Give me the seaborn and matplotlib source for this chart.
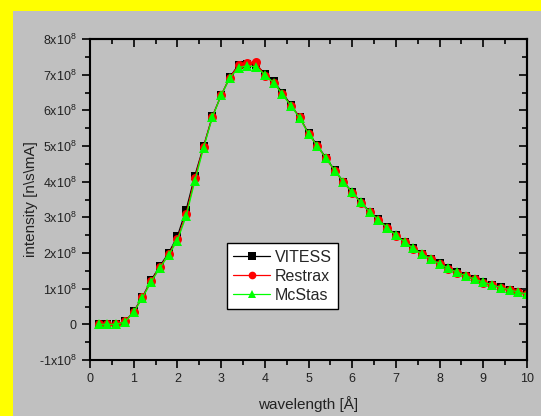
import numpy as np
import pandas as pd
import matplotlib
matplotlib.use("Agg")
import matplotlib.pyplot as plt
import seaborn as sns
from matplotlib.patches import Rectangle
from matplotlib.ticker import MultipleLocator, FuncFormatter, NullFormatter

wavelength = [0.2, 0.4, 0.6, 0.8, 1.0, 1.2, 1.4, 1.6, 1.8, 2.0,
              2.2, 2.4, 2.6, 2.8, 3.0, 3.2, 3.4, 3.6, 3.8, 4.0,
              4.2, 4.4, 4.6, 4.8, 5.0, 5.2, 5.4, 5.6, 5.8, 6.0,
              6.2, 6.4, 6.6, 6.8, 7.0, 7.2, 7.4, 7.6, 7.8, 8.0,
              8.2, 8.4, 8.6, 8.8, 9.0, 9.2, 9.4, 9.6, 9.8, 10.0]

# intensities in units of 1e8 n/s/mA
vitess = [0.0, 0.0, 0.0, 0.08, 0.36, 0.77, 1.24, 1.64, 2.0, 2.47,
          3.21, 4.17, 5.0, 5.83, 6.42, 6.93, 7.28, 7.3, 7.28, 7.03,
          6.82, 6.5, 6.15, 5.8, 5.36, 5.02, 4.67, 4.32, 4.0, 3.71,
          3.43, 3.16, 2.94, 2.72, 2.51, 2.32, 2.14, 1.98, 1.84, 1.71,
          1.58, 1.47, 1.36, 1.27, 1.19, 1.11, 1.04, 0.97, 0.91, 0.85]
restrax = [0.0, 0.0, 0.0, 0.08, 0.35, 0.76, 1.21, 1.61, 1.96, 2.4,
           3.1, 4.1, 4.98, 5.82, 6.42, 6.92, 7.26, 7.33, 7.35, 6.96,
           6.78, 6.47, 6.13, 5.8, 5.34, 5.0, 4.65, 4.3, 3.98, 3.69,
           3.41, 3.14, 2.92, 2.7, 2.49, 2.3, 2.12, 1.96, 1.82, 1.69,
           1.56, 1.45, 1.35, 1.26, 1.17, 1.1, 1.03, 0.96, 0.9, 0.84]
mcstas = [0.0, 0.0, 0.0, 0.07, 0.34, 0.74, 1.19, 1.58, 1.94, 2.35,
          3.03, 4.02, 4.95, 5.8, 6.42, 6.9, 7.2, 7.25, 7.22, 7.0,
          6.78, 6.45, 6.12, 5.78, 5.34, 5.0, 4.66, 4.31, 3.99, 3.7,
          3.42, 3.15, 2.93, 2.71, 2.5, 2.31, 2.13, 1.97, 1.83, 1.7,
          1.57, 1.46, 1.36, 1.27, 1.18, 1.11, 1.03, 0.97, 0.9, 0.85]

series_names = ["VITESS", "Restrax", "McStas"]
colors = {"VITESS": "#000000", "Restrax": "#FF0000", "McStas": "#00FF00"}
markers = {"VITESS": "s", "Restrax": "o", "McStas": "^"}
msize = {"VITESS": 6, "Restrax": 6.5, "McStas": 7}

df = pd.concat([
    pd.DataFrame({"wavelength": wavelength, "intensity": np.array(v) * 1e8, "series": n})
    for n, v in zip(series_names, [vitess, restrax, mcstas])
], ignore_index=True)

sns.set_style("ticks")
plt.rcParams["font.family"] = ["Liberation Sans", "DejaVu Sans"]
plt.rcParams["mathtext.fontset"] = "custom"
plt.rcParams["mathtext.rm"] = "Liberation Sans"
plt.rcParams["mathtext.it"] = "Liberation Sans"

fig = plt.figure(figsize=(5.41, 4.16), dpi=100, facecolor="#FFFF00")
fig.patches.append(Rectangle((13 / 541, 0), 528 / 541, 405 / 416,
                             transform=fig.transFigure, facecolor="#C0C0C0",
                             edgecolor="none", zorder=-10))
ax = fig.add_axes([90 / 541, 56 / 416, 437 / 541, 321 / 416])
ax.set_facecolor("#C0C0C0")

for n in series_names:
    sub = df[df["series"] == n]
    sns.lineplot(data=sub, x="wavelength", y="intensity", ax=ax,
                 color=colors[n], marker=markers[n], markersize=msize[n],
                 markeredgewidth=0, linewidth=0.9, label=n, estimator=None,
                 sort=False)

ax.set_xlim(0, 10)
ax.set_ylim(-1e8, 8e8)
ax.xaxis.set_major_locator(MultipleLocator(1))
ax.xaxis.set_minor_locator(MultipleLocator(0.5))
ax.yaxis.set_major_locator(MultipleLocator(1e8))
ax.yaxis.set_minor_locator(MultipleLocator(0.5e8))


def yfmt(v, pos):
    k = int(round(v / 1e8))
    if k == 0:
        return "0"
    return "%dx10$^{8}$" % k


ax.yaxis.set_major_formatter(FuncFormatter(yfmt))

for s in ax.spines.values():
    s.set_visible(True)
    s.set_linewidth(1.5)
    s.set_color("black")

ax.tick_params(axis="both", which="major", length=6, width=1.2, labelsize=9,
               colors="black", labelcolor="#222222", direction="out")
ax.tick_params(axis="both", which="minor", length=3.5, width=1.2, colors="black",
               direction="out")
ax.tick_params(top=False, right=False, which="both")

# inward ticks on top and right
secx = ax.secondary_xaxis("top")
secx.xaxis.set_major_locator(MultipleLocator(1))
secx.xaxis.set_minor_locator(MultipleLocator(0.5))
secx.xaxis.set_major_formatter(NullFormatter())
secx.tick_params(which="major", direction="in", length=6, width=1.2, colors="black")
secx.tick_params(which="minor", direction="in", length=3.5, width=1.2, colors="black")
secx.spines["top"].set_linewidth(1.5)

secy = ax.secondary_yaxis("right")
secy.yaxis.set_major_locator(MultipleLocator(1e8))
secy.yaxis.set_minor_locator(MultipleLocator(0.5e8))
secy.yaxis.set_major_formatter(NullFormatter())
secy.tick_params(which="major", direction="in", length=6, width=1.2, colors="black")
secy.tick_params(which="minor", direction="in", length=3.5, width=1.2, colors="black")
secy.spines["right"].set_linewidth(1.5)

ax.set_xlabel("wavelength [Å]", fontsize=11, color="#222222")
ax.set_ylabel("intensity [n\\s\\mA]", fontsize=11, color="#222222")
ax.xaxis.set_label_coords(0.5, -0.112)
ax.yaxis.set_label_coords(-0.12, 0.5)

leg = ax.legend(loc="upper left", bbox_to_anchor=(0.313, 0.364), borderaxespad=0,
                fontsize=11.5, frameon=True, fancybox=False, handlelength=2.3,
                handletextpad=0.3, labelspacing=0.25, borderpad=0.4,
                markerscale=0.85)
leg.get_frame().set_edgecolor("black")
leg.get_frame().set_facecolor("white")
leg.get_frame().set_alpha(1)
leg.get_frame().set_linewidth(1.0)

fig.savefig("out.png", dpi=100, facecolor=fig.get_facecolor())
